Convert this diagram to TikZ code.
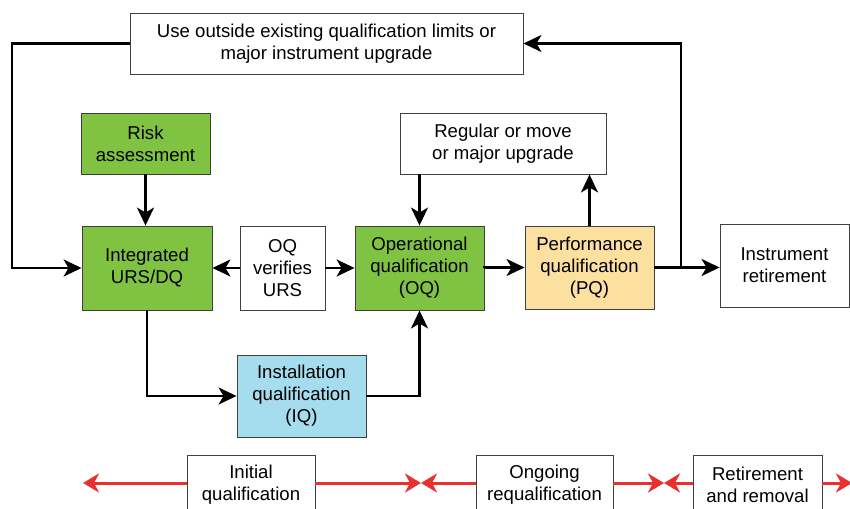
\documentclass[tikz,border=0pt]{standalone}
\usepackage{fontspec}
\setmainfont{Liberation Sans}
\usetikzlibrary{arrows.meta}
\definecolor{qualgreen}{HTML}{80C342}
\definecolor{iqblue}{HTML}{A5DDEF}
\definecolor{pqyellow}{HTML}{FBE0A0}
\definecolor{phasered}{HTML}{E8302E}
\begin{document}
\begin{tikzpicture}[x=1pt,y=-1pt,
  box/.style={draw=black!75, line width=0.9pt, fill=white, align=center,
    inner sep=0pt, font=\fontsize{18.6}{22}\selectfont},
  flow/.style={line width=2.4pt, -{Stealth[length=18pt,width=17pt,inset=5pt]}},
  phasetip/.style={draw=phasered, line width=3pt, -{Stealth[length=16pt,width=19pt,inset=5pt]}}]
\path[use as bounding box, clip] (0,0) rectangle (850,508);
% boxes of the flow
\node[box, minimum width=393pt, minimum height=61pt] (outside) at (326.5,43.5) {Use outside existing qualification limits or\\major instrument upgrade};
\node[box, fill=qualgreen, minimum width=129pt, minimum height=61pt] (risk) at (145.5,143.5) {Risk\\assessment};
\node[box, minimum width=206pt, minimum height=61pt] (regular) at (503,143.5) {Regular or move\\or major upgrade};
\node[box, fill=qualgreen, minimum width=130pt, minimum height=84pt] (urs) at (147,268) {Integrated\\URS/DQ};
\node[box, minimum width=85pt, minimum height=84pt] (verify) at (282.5,268) {OQ\\verifies\\URS};
\node[box, fill=qualgreen, minimum width=129pt, minimum height=84pt] (oq) at (419.5,268) {Operational\\qualification\\(OQ)};
\node[box, fill=pqyellow, minimum width=129pt, minimum height=83pt] (pq) at (589.5,267.5) {Performance\\qualification\\(PQ)};
\node[box, minimum width=129pt, minimum height=83pt] (retire) at (784.5,265.5) {Instrument\\retirement};
\node[box, fill=iqblue, minimum width=129pt, minimum height=82pt] (iq) at (301.5,396) {Installation\\qualification\\(IQ)};
\coordinate (loop) at (12,43.5);
\coordinate (branch) at (681,267.5);
% connectors
\draw[flow] (risk.south) -- (risk.south |- urs.north);
\draw[flow] (outside.west) -- (loop) |- (urs.west);
\draw[flow] (verify) -- (urs);
\draw[flow] (verify) -- (oq);
\draw[flow] (oq) -- (oq.east |- pq.west) -- (pq.west);
\draw[flow] (pq.east) -- (pq.east -| retire.west);
\draw[flow] (branch) |- (outside.east);
\draw[flow] (pq.north) -- (pq.north |- regular.south);
\draw[flow] (oq.north |- regular.south) -- (oq.north);
\draw[flow] (urs.south) |- (iq.west);
\draw[flow] (iq.east) -| (oq.south);
% phases
\node[box, minimum width=128pt, minimum height=60pt] (initial) at (251,485) {Initial\\qualification};
\node[box, minimum width=137pt, minimum height=60pt] (ongoing) at (544.5,485) {Ongoing\\requalification};
\node[box, minimum width=129pt, minimum height=60pt] (removal) at (757.5,485) {Retirement\\and removal};
\coordinate (p0) at (83,483);
\coordinate (p1) at (421,483);
\coordinate (p2) at (664,483);
\coordinate (p3) at (852,483);
\draw[phasetip] (initial.west |- p0) -- (p0);
\draw[phasetip] (initial.east |- p0) -- (p1);
\draw[phasetip] (ongoing.west |- p0) -- (p1);
\draw[phasetip] (ongoing.east |- p0) -- (p2);
\draw[phasetip] (removal.west |- p0) -- (p2);
\draw[phasetip] (removal.east |- p0) -- (p3);
\end{tikzpicture}
\end{document}
